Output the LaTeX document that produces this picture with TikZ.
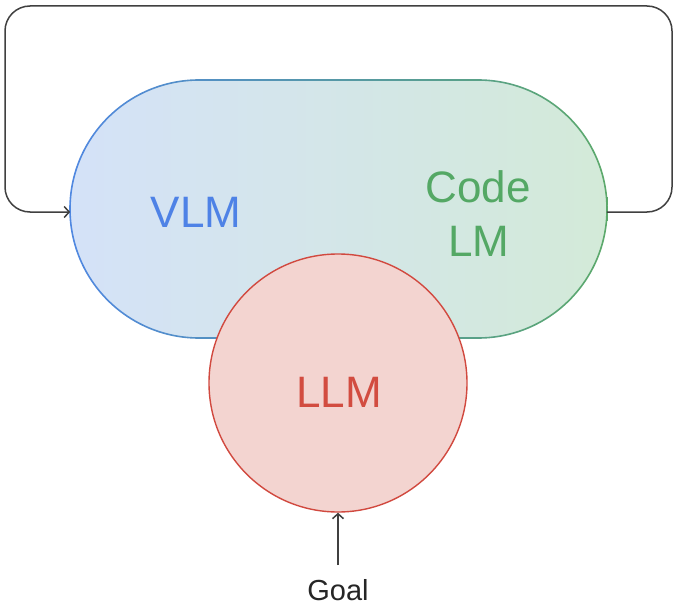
\documentclass[tikz,border=0pt]{standalone}
\usepackage{fontspec}
\setmainfont{Liberation Sans}
\usetikzlibrary{arrows.meta}
\definecolor{bluefill}{HTML}{D4E2F8}
\definecolor{greenfill}{HTML}{D3EAD8}
\definecolor{blueline}{HTML}{5087E3}
\definecolor{greenline}{HTML}{5CAA68}
\definecolor{redline}{HTML}{D1493F}
\definecolor{redfill}{HTML}{F3D4D0}
\definecolor{bluetext}{HTML}{4E82E6}
\definecolor{greentext}{HTML}{54A865}
\definecolor{redtext}{HTML}{D24C40}
\definecolor{loopline}{HTML}{404040}
\tikzset{
  big/.style={font=\fontsize{44}{54}\selectfont, anchor=base},
  flow/.style={draw=loopline, line width=1.5pt, -{Straight Barb[length=5pt,width=11pt]}},
}
\begin{document}
\begin{tikzpicture}[x=1pt,y=-1pt]
\path[use as bounding box, fill=white] (0,0) rectangle (680,607);
% stadium body
\node[rounded corners=129pt, left color=bluefill, right color=greenfill,
      minimum width=537pt, minimum height=258pt, inner sep=0pt] (body) at (338.5,209) {};
% gradient border
\begin{scope}[even odd rule]
  \clip
     (199,79.2) -- (478,79.2) arc (-90:90:129.8)
       -- (199,338.8) arc (90:270:129.8) -- cycle
     (199,80.8) -- (478,80.8) arc (-90:90:128.2)
       -- (199,337.2) arc (90:270:128.2) -- cycle;
  \shade[left color=blueline, right color=greenline] (60,70) rectangle (620,350);
\end{scope}
\node[big, text=bluetext] (vlm) at (196,227) {VLM};
\node[big, text=greentext] (code) at (478,202) {Code};
\node[big, text=greentext] (lm) at (479,256) {LM};
% LLM circle
\node[circle, draw=redline, fill=redfill, line width=1.4pt, minimum size=258pt, inner sep=0pt] (llm) at (338,383) {};
\node[big, text=redtext] (llmt) at (339,407) {LLM};
% goal
\node[font=\fontsize{29}{34}\selectfont, anchor=base, text=black!85] (goal) at (338,600) {Goal};
\coordinate (goaltop) at (338,565);
\draw[flow] (goaltop) -- (llm.south);
% feedback loop
\coordinate (outpt) at (606.8,212);
\coordinate (inpt) at (70.2,212);
\draw[flow, rounded corners=25pt] (outpt) -- (672,212) -- (672,6) -- (5,6) -- (5,212) -- (inpt);
\end{tikzpicture}
\end{document}
